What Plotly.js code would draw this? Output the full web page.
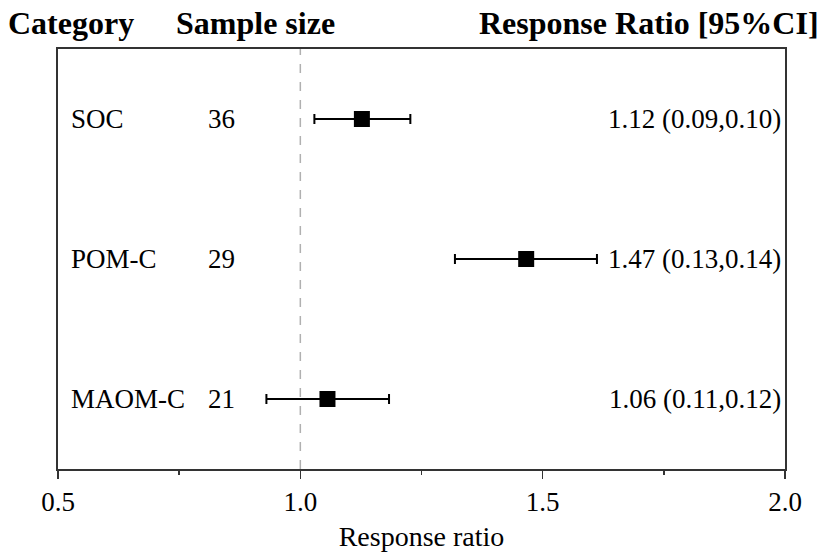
<!DOCTYPE html>
<html>
<head>
<meta charset="utf-8">
<script src="https://cdn.plot.ly/plotly-3.0.1.min.js"></script>
<style>html,body{margin:0;padding:0;background:#fff;}#chart{width:824px;height:558px;}</style>
</head>
<body>
<div id="chart"></div>
<script>
// Data
const categories = ["SOC", "POM-C", "MAOM-C"];
const sampleSize = [36, 29, 21];
const ratio = [1.127, 1.466, 1.056];
const lower = [1.029, 1.319, 0.930];
const upper = [1.227, 1.612, 1.183];
const ratioLabel = ["1.12", "1.47", "1.06"];
const ciMinus = ["0.09", "0.13", "0.11"];
const ciPlus = ["0.10", "0.14", "0.12"];
const xTicks = [0.5, 1.0, 1.5, 2.0];
const xTickText = ["0.5", "1.0", "1.5", "2.0"];

const FONT = "Liberation Serif, Times New Roman, serif";
const idx = categories.map((c, i) => i);

const trace = {
  type: "scatter",
  mode: "markers",
  x: ratio,
  y: idx,
  marker: {symbol: "square", size: 16, color: "#000"},
  error_x: {
    type: "data",
    symmetric: false,
    array: upper.map((u, i) => u - ratio[i]),
    arrayminus: lower.map((l, i) => ratio[i] - l),
    color: "#000",
    thickness: 2,
    width: 5
  },
  hoverinfo: "x+y",
  showlegend: false
};

const W = 824, ML = 58, MR = 39;
const pw = W - ML - MR;
function px2paper(p) { return (p - ML) / pw; }

const rowFont = {family: FONT, size: 27, color: "#000"};
const annotations = [];
idx.forEach(i => {
  annotations.push({xref: "paper", yref: "y", x: px2paper(69), y: i, text: categories[i],
    xanchor: "left", yanchor: "middle", showarrow: false, font: rowFont});
  annotations.push({xref: "paper", yref: "y", x: px2paper(221), y: i, text: String(sampleSize[i]),
    xanchor: "center", yanchor: "middle", showarrow: false, font: rowFont});
  annotations.push({xref: "paper", yref: "y", x: px2paper(783), y: i,
    text: ratioLabel[i] + " (" + ciMinus[i] + "," + ciPlus[i] + ")",
    xanchor: "right", yanchor: "middle", showarrow: false, font: rowFont});
});
const headFont = {family: FONT, size: 32, color: "#000"};
annotations.push({xref: "paper", yref: "paper", x: px2paper(6), y: 1, yshift: 26, text: "<b>Category</b>",
  xanchor: "left", yanchor: "middle", showarrow: false, font: headFont});
annotations.push({xref: "paper", yref: "paper", x: px2paper(174), y: 1, yshift: 26, text: "<b>Sample size</b>",
  xanchor: "left", yanchor: "middle", showarrow: false, font: headFont});
annotations.push({xref: "paper", yref: "paper", x: px2paper(821), y: 1, yshift: 26, text: "<b>Response Ratio [95%CI]</b>",
  xanchor: "right", yanchor: "middle", showarrow: false, font: headFont});

const layout = {
  width: 824, height: 558,
  margin: {l: ML, r: MR, t: 49, b: 89, pad: 0},
  paper_bgcolor: "#fff", plot_bgcolor: "#fff",
  font: {family: FONT, color: "#000"},
  xaxis: {
    range: [0.5, 2.0],
    tickvals: xTicks, ticktext: xTickText,
    ticks: "outside", ticklen: 8, tickwidth: 1.5, tickcolor: "#333",
    minor: {dtick: 0.25, tick0: 0.5, ticks: "outside", ticklen: 4, tickwidth: 1.5, tickcolor: "#333", showgrid: false},
    showline: true, linecolor: "#333", linewidth: 2, mirror: true,
    showgrid: false, zeroline: false,
    tickfont: {family: FONT, size: 27, color: "#000"},
    title: {text: "Response ratio", font: {family: FONT, size: 28, color: "#000"}, standoff: 10}
  },
  yaxis: {
    range: [2.5, -0.5],
    showticklabels: false, ticks: "",
    showline: true, linecolor: "#333", linewidth: 2, mirror: true,
    showgrid: false, zeroline: false
  },
  shapes: [{
    type: "line", xref: "x", yref: "paper", x0: 1.0, x1: 1.0, y0: 0, y1: 1,
    line: {color: "#b0b0b0", width: 1.5, dash: "dash"}, layer: "below"
  }],
  annotations: annotations
};

Plotly.newPlot("chart", [trace], layout, {displayModeBar: false, staticPlot: true});
</script>
</body>
</html>
